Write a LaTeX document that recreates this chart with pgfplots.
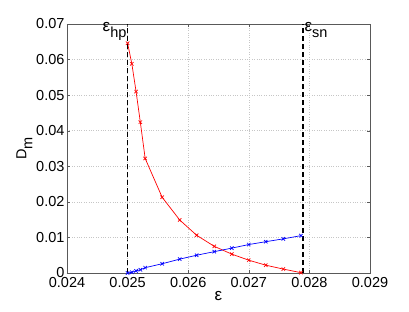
\documentclass[border=0pt]{standalone}
\usepackage{fontspec}
\setmainfont{Liberation Sans}
\usepackage{pgfplots}
\pgfplotsset{compat=1.18}
\newcommand{\sub}[1]{\raisebox{-0.42em}{#1}}
\newcommand{\eps}{{\fontsize{17}{18}\selectfont ε}}
\begin{document}
\begin{tikzpicture}
\begin{axis}[
  scale only axis, width=303pt, height=249pt,
  xmin=0.024, xmax=0.029, ymin=0, ymax=0.07,
  xtick={0.024,0.025,0.026,0.027,0.028,0.029},
  xticklabels={0.024,0.025,0.026,0.027,0.028,0.029},
  ytick={0,0.01,0.02,0.03,0.04,0.05,0.06,0.07},
  yticklabels={0,0.01,0.02,0.03,0.04,0.05,0.06,0.07},
  scaled ticks=false,
  tick align=inside, tick pos=both,
  major tick length=3pt,
  grid=major,
  major grid style={dotted, gray!45, line width=0.5pt},
  axis line style={black!65},
  every tick/.style={black!65},
  tick label style={font=\fontsize{14.5}{16}\selectfont},
  xticklabel style={yshift=-0.5pt},
  yticklabel style={xshift=1pt},
  label style={font=\fontsize{14.5}{16}\selectfont},
  xlabel={\eps}, ylabel={D\sub{m}},
  xlabel style={yshift=3pt},
  ylabel style={yshift=-3pt},
  clip=false,
]
\addplot[red, line width=0.7pt, mark=x, mark size=2.4pt] coordinates {
(0.02500,0.0646) (0.02507,0.0588) (0.02514,0.0510) (0.02521,0.0424) (0.02529,0.0322)
(0.02557,0.0213) (0.02586,0.0149) (0.02614,0.0106) (0.02643,0.0075) (0.02672,0.0053)
(0.02700,0.0036) (0.02728,0.0022) (0.02757,0.0011) (0.02786,0.0001)
};
\addplot[blue, line width=0.7pt, mark=x, mark size=2.4pt] coordinates {
(0.02500,0.0000) (0.02507,0.0002) (0.02514,0.0006) (0.02521,0.0009) (0.02529,0.0015)
(0.02557,0.0026) (0.02586,0.0039) (0.02614,0.0050) (0.02643,0.0060) (0.02672,0.0070)
(0.02700,0.0080) (0.02728,0.0088) (0.02757,0.0096) (0.02786,0.0105)
};
\addplot[black, line width=1.8pt, dash pattern=on 5pt off 3pt] coordinates {(0.02500,0) (0.02500,0.07)};
\addplot[black, line width=1.8pt, dash pattern=on 5pt off 3pt] coordinates {(0.02790,0) (0.02790,0.07)};
\node[anchor=base east, font=\fontsize{14.5}{16}\selectfont, inner sep=0pt] at ([xshift=-1pt]axis cs:0.02500,0.0678) {\eps\sub{hp}};
\node[anchor=base west, font=\fontsize{14.5}{16}\selectfont, inner sep=0pt] at ([xshift=1pt]axis cs:0.02790,0.0678) {\eps\sub{sn}};
\end{axis}
\path ([shift={(-67pt,-38pt)}]current axis.south west) rectangle ([shift={(39pt,24pt)}]current axis.north east);
\end{tikzpicture}
\end{document}
